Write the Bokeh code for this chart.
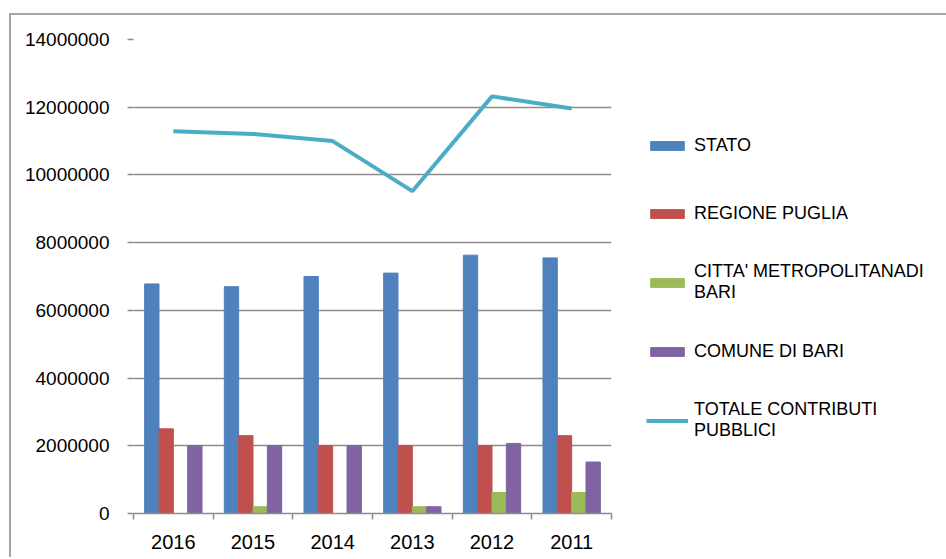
from bokeh.plotting import figure
from bokeh.models import (FactorRange, Range1d, LinearAxis, FixedTicker, BasicTickFormatter,
                          Legend, LegendItem, ColumnDataSource)
from bokeh.transform import dodge
from bokeh.embed import file_html
from bokeh.resources import INLINE

years = ["2016", "2015", "2014", "2013", "2012", "2011"]
stato = [6780000, 6700000, 7000000, 7100000, 7630000, 7550000]
regione = [2500000, 2300000, 2000000, 2000000, 2000000, 2300000]
citta = [0, 200000, 0, 200000, 620000, 620000]
comune = [2000000, 2000000, 2000000, 200000, 2070000, 1520000]
totale = [11290000, 11210000, 11000000, 9520000, 12320000, 11960000]
y_ticks = [0, 2000000, 4000000, 6000000, 8000000, 10000000, 12000000, 14000000]
series_labels = ["STATO", "REGIONE PUGLIA", "CITTA' METROPOLITANADI\nBARI",
                 "COMUNE DI BARI", "TOTALE CONTRIBUTI\nPUBBLICI"]

FONT = "Liberation Sans"
GRID = "#8c8c8c"

src = ColumnDataSource(dict(years=years, stato=stato, regione=regione,
                            citta=citta, comune=comune, totale=totale))

p = figure(x_range=FactorRange(*years), y_range=Range1d(0, 14000000),
           frame_width=478, frame_height=474,
           min_border_left=122, min_border_right=330, min_border_top=24, min_border_bottom=44,
           output_backend="svg", toolbar_location=None, x_axis_location=None)
p.outline_line_color = None
p.background_fill_color = "white"
p.border_fill_color = "white"
p.margin = (13, 0, 0, 9)
p.styles = {"border-left": "2px solid #a6a6a6", "border-top": "2px solid #a6a6a6"}

# y axis
ya = p.yaxis[0]
ya.ticker = FixedTicker(ticks=y_ticks, minor_ticks=[])
ya.formatter = BasicTickFormatter(use_scientific=False)
ya.axis_line_color = None
ya.major_tick_out = 6
ya.major_tick_in = 0
ya.major_tick_line_color = GRID
ya.major_tick_line_width = 1.5
ya.minor_tick_line_color = None
ya.major_label_standoff = 18
ya.major_label_text_font = FONT
ya.major_label_text_font_size = "19px"
ya.major_label_text_color = "black"

p.ygrid.ticker = FixedTicker(ticks=y_ticks)
p.ygrid.grid_line_color = GRID
p.ygrid.grid_line_width = 1.5
p.xgrid.visible = False

# x axis: labels at category centres, ticks at category boundaries
xa = LinearAxis(ticker=FixedTicker(ticks=[i + 0.5 for i in range(len(years))],
                                   minor_ticks=list(range(len(years) + 1))),
                major_label_overrides={i + 0.5: y for i, y in enumerate(years)})
xa.major_tick_out = 0
xa.major_tick_in = 0
xa.minor_tick_out = 6
xa.minor_tick_in = 0
xa.minor_tick_line_color = GRID
xa.minor_tick_line_width = 1.5
xa.axis_line_color = GRID
xa.axis_line_width = 1.5
xa.major_label_standoff = 15
xa.major_label_text_font = FONT
xa.major_label_text_font_size = "20px"
xa.major_label_text_color = "black"
p.add_layout(xa, "below")

w = 0.18
r1 = p.vbar(x=dodge("years", -0.27, range=p.x_range), top="stato", width=w, source=src,
            fill_color="#4F81BD", line_color="#4F81BD")
r2 = p.vbar(x=dodge("years", -0.09, range=p.x_range), top="regione", width=w, source=src,
            fill_color="#C0504D", line_color="#C0504D")
r3 = p.vbar(x=dodge("years", 0.09, range=p.x_range), top="citta", width=w, source=src,
            fill_color="#9BBB59", line_color="#9BBB59")
r4 = p.vbar(x=dodge("years", 0.27, range=p.x_range), top="comune", width=w, source=src,
            fill_color="#8064A2", line_color="#8064A2")
r5 = p.line(x="years", y="totale", source=src, line_width=4, line_color="#4BACC6")

lg = Legend(items=[LegendItem(label=l, renderers=[r]) for l, r in
                   zip(series_labels, [r1, r2, r3, r4, r5])],
            location=(35, 72))
lg.padding = 0
lg.margin = 0
lg.spacing = 28
lg.border_line_color = None
lg.background_fill_alpha = 0
lg.glyph_width = 42
lg.glyph_height = 11
lg.label_height = 40
lg.label_standoff = 6
lg.label_text_font = FONT
lg.label_text_font_size = "18px"
lg.label_text_line_height = 1.4
lg.label_text_color = "black"
p.add_layout(lg, "right")

open("out.html", "w").write(file_html(p, INLINE))
